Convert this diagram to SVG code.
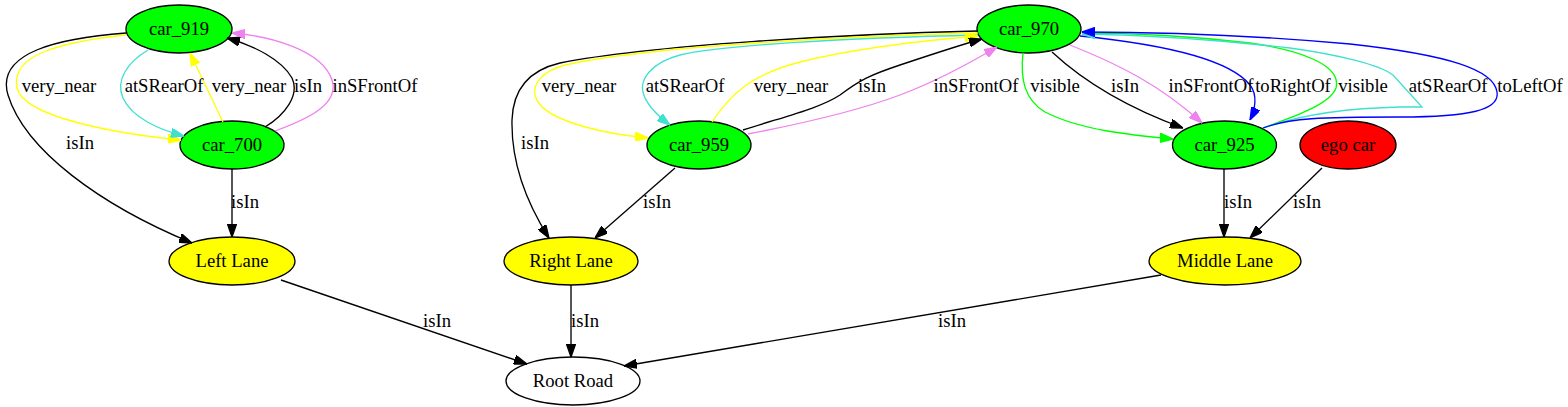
<svg xmlns="http://www.w3.org/2000/svg" width="1568" height="407" viewBox="0 0 1568 407" font-family="Liberation Serif, DejaVu Serif, serif">
<style>
text{font-family:'Liberation Serif','Times New Roman','DejaVu Serif',serif;font-size:18.67px;text-anchor:middle;fill:#000}
.node ellipse{stroke:#000;stroke-width:1.33}
.g{fill:#00ff00}.y{fill:#ffff00}.r{fill:#ff0000}.w{fill:#ffffff}
.e{fill:none;stroke-width:1.33}
.k{stroke:#000;marker-end:url(#ak)}
.ye{stroke:#ffff00;marker-end:url(#ay)}
.tq{stroke:#40e0d0;marker-end:url(#at)}
.vi{stroke:#ee82ee;marker-end:url(#av)}
.gr{stroke:#00ff00;marker-end:url(#ag)}
.bl{stroke:#0000ff;marker-end:url(#ab)}
</style>
<defs>
<marker id="ak" viewBox="0 0 10 7" refX="10" refY="3.5" markerWidth="13" markerHeight="9.3" markerUnits="userSpaceOnUse" orient="auto"><path d="M0,0 L10,3.5 L0,7 z" fill="#000" stroke="#000"/></marker>
<marker id="ay" viewBox="0 0 10 7" refX="10" refY="3.5" markerWidth="13" markerHeight="9.3" markerUnits="userSpaceOnUse" orient="auto"><path d="M0,0 L10,3.5 L0,7 z" fill="#ffff00" stroke="#ffff00"/></marker>
<marker id="at" viewBox="0 0 10 7" refX="10" refY="3.5" markerWidth="13" markerHeight="9.3" markerUnits="userSpaceOnUse" orient="auto"><path d="M0,0 L10,3.5 L0,7 z" fill="#40e0d0" stroke="#40e0d0"/></marker>
<marker id="av" viewBox="0 0 10 7" refX="10" refY="3.5" markerWidth="13" markerHeight="9.3" markerUnits="userSpaceOnUse" orient="auto"><path d="M0,0 L10,3.5 L0,7 z" fill="#ee82ee" stroke="#ee82ee"/></marker>
<marker id="ag" viewBox="0 0 10 7" refX="10" refY="3.5" markerWidth="13" markerHeight="9.3" markerUnits="userSpaceOnUse" orient="auto"><path d="M0,0 L10,3.5 L0,7 z" fill="#00ff00" stroke="#00ff00"/></marker>
<marker id="ab" viewBox="0 0 10 7" refX="10" refY="3.5" markerWidth="13" markerHeight="9.3" markerUnits="userSpaceOnUse" orient="auto"><path d="M0,0 L10,3.5 L0,7 z" fill="#0000ff" stroke="#0000ff"/></marker>
</defs>
<rect width="1568" height="407" fill="#fff"/>
<g id="car_919" class="node"><ellipse class="g" cx="179" cy="29" rx="53" ry="24"/><text x="179" y="35">car_919</text></g>
<g id="car_700" class="node"><ellipse class="g" cx="232" cy="145" rx="52" ry="24"/><text x="232" y="151">car_700</text></g>
<g id="left_lane" class="node"><ellipse class="y" cx="232" cy="261" rx="63" ry="24"/><text x="232" y="267">Left Lane</text></g>
<g id="car_970" class="node"><ellipse class="g" cx="1029" cy="29" rx="52" ry="24"/><text x="1029" y="35">car_970</text></g>
<g id="car_959" class="node"><ellipse class="g" cx="699" cy="145" rx="52" ry="24"/><text x="699" y="151">car_959</text></g>
<g id="right_lane" class="node"><ellipse class="y" cx="571" cy="261" rx="67" ry="24"/><text x="571" y="267">Right Lane</text></g>
<g id="car_925" class="node"><ellipse class="g" cx="1224.5" cy="145" rx="52" ry="24"/><text x="1224.5" y="151">car_925</text></g>
<g id="ego_car" class="node"><ellipse class="r" cx="1348" cy="145" rx="48" ry="24"/><text x="1348" y="151">ego car</text></g>
<g id="middle_lane" class="node"><ellipse class="y" cx="1225" cy="261" rx="76" ry="24"/><text x="1225" y="267">Middle Lane</text></g>
<g id="root_road" class="node"><ellipse class="w" cx="573" cy="381" rx="67" ry="24"/><text x="573" y="387">Root Road</text></g>
<g id="connectors">
<path class="e ye" d="M126,35 C60,42 10,55 17,88 C24,118 120,134 181,140"/>
<path class="e tq" d="M148,50 C128,62 115,80 123,98 C132,118 160,130 184,136"/>
<path class="e ye" d="M223,122 L190,53"/>
<path class="e k" d="M265,127 C285,115 300,95 292,78 C282,60 255,46 227,38"/>
<path class="e vi" d="M275,131 C305,120 340,105 332,80 C322,50 270,36 232,33"/>
<path class="e k" d="M126,33 C60,38 -5,52 8,95 C25,150 100,205 192,243"/>
<path class="e k" d="M232,169 L232,237"/>
<path class="e k" d="M978,31 C850,34 650,45 560,63 C530,70 513,88 512,120 C511,165 528,205 549,238"/>
<path class="e ye" d="M978,33 C850,36 650,46 565,65 C540,72 533,85 535,95 C540,120 600,133 648,138"/>
<path class="e tq" d="M978,35 C850,38 720,45 680,55 C650,63 640,80 643,92 C646,105 658,116 670,125"/>
<path class="e ye" d="M712,122 C730,95 750,75 800,62 C860,47 930,40 978,36"/>
<path class="e k" d="M743,130 C790,115 820,108 840,95 C860,80 870,75 900,65 C930,55 960,45 982,39"/>
<path class="e vi" d="M748,134 C800,124 860,110 900,95 C940,80 975,60 997,47"/>
<path class="e k" d="M675,168 L595,238"/>
<path class="e gr" d="M1023,53 C1020,80 1025,100 1045,112 C1080,130 1130,135 1173,139"/>
<path class="e k" d="M1052,52 C1080,78 1120,105 1183,128"/>
<path class="e vi" d="M1070,45 C1120,65 1160,85 1202,123"/>
<path class="e bl" d="M1080,36 C1170,45 1230,60 1250,85 C1258,95 1255,110 1250,120"/>
<path class="e gr" d="M1263,128 C1290,118 1330,105 1336,88 C1342,65 1300,50 1250,43 C1190,36 1130,33 1082,33"/>
<path class="e tq" d="M1263,128 C1300,115 1350,108 1400,107 L1422,107 L1393,75 C1380,65 1340,55 1290,48 C1220,40 1140,35 1082,34"/>
<path class="e bl" d="M1263,128 C1290,118 1320,117 1400,117 C1470,117 1500,110 1497,92 C1494,70 1450,55 1350,44 C1250,35 1150,32 1082,32"/>
<path class="e k" d="M1224,169 L1224,237"/>
<path class="e k" d="M1322,168 L1250,238"/>
<path class="e k" d="M281,280 L527,364"/>
<path class="e k" d="M571,285 L571,357"/>
<path class="e k" d="M1161,275 L624,366"/>
<text x="59" y="92">very_near</text>
<text x="164" y="92">atSRearOf</text>
<text x="249" y="92">very_near</text>
<text x="308" y="92">isIn</text>
<text x="375" y="92">inSFrontOf</text>
<text x="80" y="149">isIn</text>
<text x="245" y="208">isIn</text>
<text x="535" y="149">isIn</text>
<text x="579" y="92">very_near</text>
<text x="685" y="92">atSRearOf</text>
<text x="791" y="92">very_near</text>
<text x="872" y="92">isIn</text>
<text x="976" y="92">inSFrontOf</text>
<text x="657" y="208">isIn</text>
<text x="1055" y="92">visible</text>
<text x="1125" y="92">isIn</text>
<text x="1211" y="92">inSFrontOf</text>
<text x="1293" y="92">toRightOf</text>
<text x="1363" y="92">visible</text>
<text x="1448" y="92">atSRearOf</text>
<text x="1530" y="92">toLeftOf</text>
<text x="1238" y="208">isIn</text>
<text x="1307" y="208">isIn</text>
<text x="437" y="327">isIn</text>
<text x="585" y="327">isIn</text>
<text x="952" y="327">isIn</text>
</g>
</svg>
